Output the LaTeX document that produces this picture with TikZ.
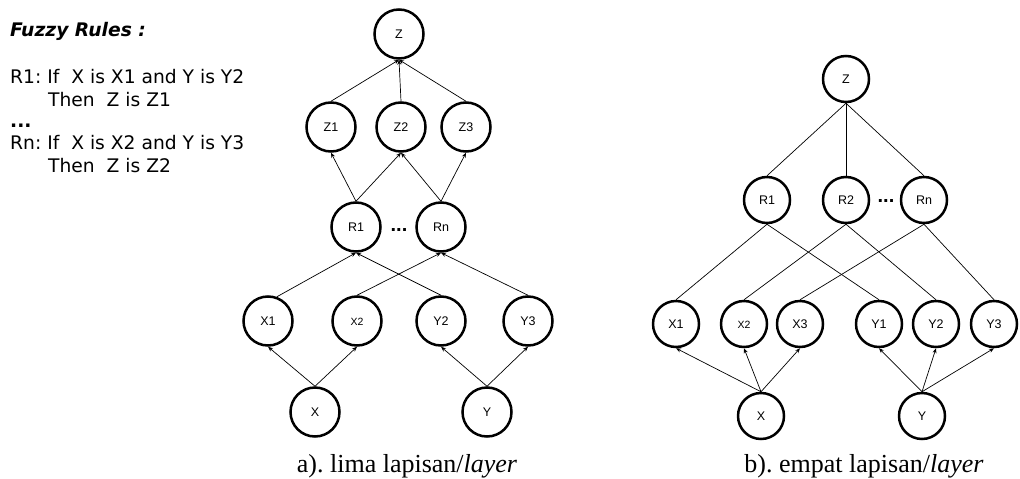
\documentclass[tikz,border=0pt]{standalone}
\usepackage{fontspec}
\setmainfont{Liberation Serif}
\newfontfamily\verd{DejaVu Sans}
\newfontfamily\arialf{Liberation Sans}
\usetikzlibrary{arrows.meta}
\frenchspacing
\begin{document}
\begin{tikzpicture}[x=1pt,y=-1pt,
  nodeL/.style={circle,draw,line width=2.5pt,minimum size=49pt,inner sep=0pt,text height=9pt,text depth=0pt,font=\arialf\fontsize{12.5}{13}\selectfont},
  nodeR/.style={circle,draw,line width=2.5pt,minimum size=46pt,inner sep=0pt,text height=9pt,text depth=0pt,font=\arialf\fontsize{12.5}{13}\selectfont},
  smalltext/.style={font=\arialf\fontsize{10.5}{12}\selectfont},
  arr/.style={line width=0.7pt,-{Stealth[length=5pt,width=4pt]}},
  ln/.style={line width=0.7pt},
  ruletext/.style={anchor=base west,inner sep=0pt,font=\verd\fontsize{18.7}{22}\selectfont},
  captext/.style={anchor=base,inner sep=0pt,font=\fontsize{26}{30}\selectfont},
  dotstext/.style={font=\arialf\bfseries\fontsize{20}{22}\selectfont,inner sep=0pt,anchor=base}
]
\useasboundingbox (0,0) rectangle (1020,479);

% ---- Fuzzy rules text
\node[ruletext] (title) at (10,36) {\bfseries\itshape Fuzzy Rules :};
\node[ruletext] (r1a) at (10,83) {R1: If~~X is X1 and Y is Y2};
\node[ruletext] (r1b) at (48,106) {Then~~Z is Z1};
\node[ruletext] (rdots) at (10,127) {\bfseries ...};
\node[ruletext] (rna) at (10,149) {Rn: If~~X is X2 and Y is Y3};
\node[ruletext] (rnb) at (48,172) {Then~~Z is Z2};

% ---- Left diagram (a)
\node[nodeL] (aZ) at (399,34) {Z};
\node[nodeL] (aZ1) at (331,127) {Z1};
\node[nodeL] (aZ2) at (401,127) {Z2};
\node[nodeL] (aZ3) at (466,127) {Z3};
\node[nodeL] (aR1) at (356,227) {R1};
\node[nodeL] (aRn) at (441,227) {Rn};
\node[dotstext] (adots) at (399,231) {...};
\node[nodeL] (aX1) at (268,321) {X1};
\node[nodeL,smalltext] (aX2) at (357,321) {X2};
\node[nodeL] (aY2) at (441,321) {Y2};
\node[nodeL] (aY3) at (528,321) {Y3};
\node[nodeL] (aX) at (315,412) {X};
\node[nodeL] (aY) at (487,412) {Y};

\draw[arr] (aX.north) -- (aX1.south);
\draw[arr] (aX.north) -- (aX2.south);
\draw[arr] (aY.north) -- (aY2.south);
\draw[arr] (aY.north) -- (aY3.south);
\draw[arr] (aX1.70) -- (aR1.south);
\draw[arr] (aY2.north) -- (aR1.south);
\draw[arr] (aX2.north) -- (aRn.south);
\draw[arr] (aY3.north) -- (aRn.south);
\draw[arr] (aR1.north) -- (aZ1.south);
\draw[arr] (aR1.north) -- (aZ2.south);
\draw[arr] (aRn.north) -- (aZ2.south);
\draw[arr] (aRn.north) -- (aZ3.south);
\draw[arr] (aZ1.north) -- (aZ.south);
\draw[arr] (aZ2.north) -- (aZ.south);
\draw[arr] (aZ3.north) -- (aZ.south);

\node[captext] (capa) at (407,472) {a). lima lapisan/\textit{layer}};

% ---- Right diagram (b)
\node[nodeR] (bZ) at (846,79) {Z};
\node[nodeR] (bR1) at (767,200) {R1};
\node[nodeR] (bR2) at (846,200) {R2};
\node[nodeR] (bRn) at (924,200) {Rn};
\node[dotstext] (bdots) at (886,202) {...};
\node[nodeR] (bX1) at (676,324) {X1};
\node[nodeR,smalltext] (bX2) at (744,324) {X2};
\node[nodeR] (bX3) at (800,324) {X3};
\node[nodeR] (bY1) at (879,324) {Y1};
\node[nodeR] (bY2) at (936,324) {Y2};
\node[nodeR] (bY3) at (994,324) {Y3};
\node[nodeR] (bX) at (761,416) {X};
\node[nodeR] (bY) at (922,416) {Y};

\draw[ln] (bZ.south) -- (bR1.north);
\draw[ln] (bZ.south) -- (bR2.north);
\draw[ln] (bZ.south) -- (bRn.north);
\draw[ln] (bR1.south) -- (bX1.north);
\draw[ln] (bR1.south) -- (bY1.north);
\draw[ln] (bR2.south) -- (bX2.north);
\draw[ln] (bR2.south) -- (bY2.north);
\draw[ln] (bRn.south) -- (bX3.north);
\draw[ln] (bRn.south) -- (bY3.north);
\draw[arr] (bX.north) -- (bX1.south);
\draw[arr] (bX.north) -- (bX2.south);
\draw[arr] (bX.north) -- (bX3.south);
\draw[arr] (bY.north) -- (bY1.south);
\draw[arr] (bY.north) -- (bY2.south);
\draw[arr] (bY.north) -- (bY3.south);

\node[captext] (capb) at (864,472) {b). empat lapisan/\textit{layer}};
\end{tikzpicture}
\end{document}
